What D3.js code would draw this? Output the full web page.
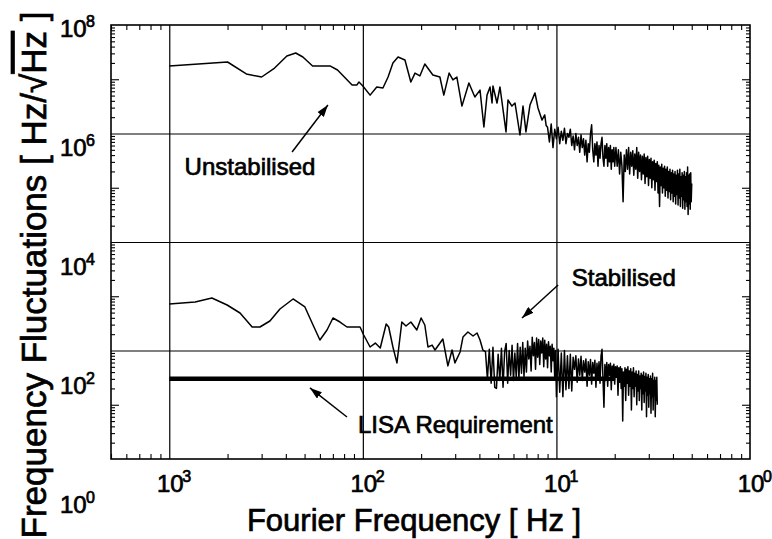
<!DOCTYPE html>
<html><head><meta charset="utf-8">
<script src="https://cdn.jsdelivr.net/npm/d3@7/dist/d3.min.js"></script>
<style>
body{margin:0;background:#fff}
text{font-family:"Liberation Sans",Arial,Helvetica,sans-serif;font-weight:normal;fill:#000;stroke:#000;stroke-width:0.7px}
</style>
</head><body>
<svg id="chart" width="772" height="539"></svg>
<script>
// ---------------- data ----------------
// [frequency Hz, fluctuation Hz/sqrt(Hz)]
const unstabilised = [
[0.001,1.75e7],[0.002,2.08e7],[0.0025,1.25e7],[0.003,1.10e7],[0.0035,1.61e7],[0.00405,2.68e7],
[0.0045,3.05e7],[0.0049,2.57e7],[0.0055,1.75e7],[0.0068,1.75e7],[0.0074,1.48e7],[0.0088,7.8e6],
[0.0093,7.8e6],[0.00955,8.9e6],[0.010,7.5e6],[0.0109,5.1e6],[0.0118,7.2e6],[0.0127,6.9e6],
[0.0135,1.10e7],[0.0143,2.0e7],[0.0152,2.57e7],[0.0165,2.26e7],[0.0177,8.9e6],[0.0186,1.30e7],
[0.0197,1.15e7],[0.0209,1.91e7],[0.0230,1.20e7],[0.0250,1.10e7],[0.0262,5.1e6],[0.0279,1.30e7],
[0.0292,9.7e6],[0.0306,1.10e7],[0.0325,3.2e6],[0.0353,8.5e6],[0.0379,4.7e6],[0.0403,6.3e6],
[0.0422,1.32e6],[0.0438,5.1e6],[0.0454,7.2e6],[0.0465,3.65e6],[0.0470,7.5e6],[0.0493,3.65e6],
[0.0511,7.2e6],[0.0549,1.07e6],[0.0562,4.15e6],[0.0589,3.2e6],[0.0611,3.65e6],[0.0648,9.4e5],
[0.0672,3.2e6],[0.0696,1.07e6],[0.0730,3.35e6],[0.0775,5.6e6],[0.0803,2.95e6],[0.0842,1.77e6],
[0.0870,2.2e6],[0.0885,1.4e6],
[0.090,1.3e6],[0.092,7e5],[0.094,1.5e6],[0.096,5.5e5],[0.098,1.2e6],[0.100,8e5],[0.102,1.3e6],
[0.104,6.5e5],[0.106,1.1e6],[0.108,7.5e5],[0.110,1.25e6],[0.112,6.5e5],[0.114,1.0e6],[0.116,8.5e5],
[0.118,1.2e6],[0.120,6e5],[0.122,9e5],[0.124,5e5],[0.126,1.0e6],[0.128,6e5],[0.130,8.5e5],
[0.132,4.5e5],[0.134,9.5e5],[0.136,5.5e5],[0.138,8e5],[0.140,4e5],[0.142,7.5e5],[0.144,3e5],
[0.146,6.5e5],[0.148,4.5e5],[0.150,1.0e6],[0.152,1.45e6],[0.154,5e5],[0.156,3e5],[0.158,6.5e5],
[0.160,4e5],[0.162,7e5],[0.164,2.5e5],[0.166,6e5],[0.168,3.5e5],[0.170,6.5e5],[0.172,8.5e5],
[0.174,3.5e5],[0.176,2.5e5],[0.178,6e5],[0.180,3.5e5],[0.182,6.5e5],[0.184,2.5e5],[0.186,5.5e5],
[0.188,3e5],[0.190,6e5],[0.192,2.2e5],[0.194,5e5],[0.196,3e5],[0.198,5.5e5],[0.200,2.5e5],
[0.203,5.5e5],[0.206,2.5e5],[0.209,5e5],[0.212,1.8e5],[0.215,4.5e5],[0.218,2.5e5],[0.221,5.5e4],
[0.224,4e5],[0.227,2e5],[0.230,5e5],[0.233,2.2e5],[0.236,5.5e5],[0.239,1.8e5],[0.242,4.5e5],
[0.245,2.5e5],[0.248,4.8e5],[0.251,1.7e5],[0.254,4.2e5],[0.257,2.2e5],[0.260,5.5e5],[0.263,1.5e5],
[0.266,4.5e5],[0.269,2e5],[0.272,4e5],[0.275,1.4e5],[0.278,3.8e5],[0.281,1.8e5],[0.284,4.2e5],
[0.287,1.2e5],[0.290,3.6e5],[0.293,1.6e5],[0.296,3.8e5],[0.299,1.1e5],[0.302,3.3e5],[0.305,1.5e5],
[0.308,3.5e5],[0.311,1.0e5],[0.314,3.0e5],[0.317,1.4e5],[0.320,3.2e5],[0.323,9e4],[0.326,2.8e5],
[0.329,1.3e5],[0.332,3.0e5],[0.335,8e4],[0.338,2.6e5],[0.341,4.5e4],[0.344,2.4e5],[0.347,1.1e5],
[0.350,2.7e5],[0.353,8e4],[0.356,2.3e5],[0.359,1.0e5],[0.362,2.5e5],[0.365,7e4],[0.368,2.2e5],
[0.371,9e4],[0.374,2.4e5],[0.377,6.5e4],[0.380,2.0e5],[0.383,8.5e4],[0.386,2.2e5],[0.389,6e4],
[0.392,1.9e5],[0.395,8e4],[0.398,2.1e5],[0.401,5.5e4],[0.404,1.8e5],[0.407,7e4],[0.410,2.0e5],
[0.413,5e4],[0.416,1.7e5],[0.419,7.5e4],[0.422,2.1e5],[0.425,4.8e4],[0.428,1.8e5],[0.431,6.5e4],
[0.434,2.2e5],[0.437,4.5e4],[0.440,1.6e5],[0.443,7e4],[0.446,1.9e5],[0.449,4.2e4],[0.452,1.7e5],
[0.455,6e4],[0.458,2.0e5],[0.461,4e4],[0.464,1.6e5],[0.467,5.5e4],[0.470,1.9e5],[0.473,4.5e4],
[0.476,2.4e5],[0.479,3.2e4],[0.482,1.7e5],[0.485,5e4],[0.488,1.8e5],[0.491,4e4],[0.494,1.9e5],
[0.497,5.5e4],[0.500,1.2e5]
];
const stabilised = [
[0.001,719],[0.00136,784],[0.00166,929],[0.00199,690],[0.00232,491],[0.00268,271],[0.00294,271],
[0.00331,350],[0.00373,582],[0.00436,890],[0.00502,634],[0.00553,295],[0.0060,156],[0.00653,239],
[0.00701,397],[0.00762,335],[0.00828,271],[0.00967,271],[0.0101,193],[0.0109,116],[0.0116,137],
[0.0123,111],[0.0132,308],[0.0136,271],[0.0143,116],[0.0150,59],[0.0159,335],[0.0167,283],
[0.0177,335],[0.0190,239],[0.0200,397],[0.0209,295],[0.0217,116],[0.0228,126],[0.0236,102],
[0.0259,163],[0.0275,52],[0.0289,102],[0.0299,59],[0.0318,94],[0.0329,177],[0.0349,219],
[0.0371,185],[0.0389,210],[0.0403,156],[0.0417,102],
[0.043,95],[0.044,30],[0.045,105],[0.046,25],[0.047,115],[0.048,21],[0.049,20],[0.050,85],
[0.051,28],[0.052,110],[0.053,21],[0.054,95],[0.055,135],[0.056,25],[0.057,100],[0.058,35],
[0.059,125],[0.060,28],[0.061,90],[0.062,32],[0.063,135],[0.064,30],[0.065,115],[0.066,38],
[0.067,140],[0.068,33],[0.069,110],[0.070,40],[0.071,150],[0.072,70],[0.073,120],[0.074,42],
[0.075,175],[0.076,80],[0.077,140],[0.078,45],[0.079,170],[0.080,75],[0.081,160],[0.082,55],
[0.083,150],[0.084,90],[0.085,170],[0.086,50],[0.087,155],[0.088,70],[0.089,130],[0.090,48],
[0.091,145],[0.092,80],[0.093,120],[0.094,40],[0.095,130],[0.096,65],[0.097,110],[0.098,30],
[0.099,100],[0.100,14],
[0.102,105],[0.104,17],[0.106,90],[0.108,14],[0.110,100],[0.112,19],[0.114,80],[0.116,20],
[0.118,85],[0.120,18],[0.122,75],[0.124,45],[0.126,80],[0.128,26],[0.130,70],[0.132,35],
[0.134,78],[0.136,28],[0.138,65],[0.140,40],[0.142,70],[0.144,22],[0.146,62],[0.148,35],
[0.150,68],[0.152,24],[0.154,60],[0.156,38],[0.158,66],[0.160,21],[0.162,58],[0.164,30],
[0.166,62],[0.168,25],[0.170,80],[0.172,105],[0.174,30],[0.176,9],[0.178,55],[0.180,28],
[0.182,60],[0.184,22],[0.186,55],[0.188,35],[0.190,58],[0.192,19],[0.194,52],[0.196,30],
[0.198,56],[0.200,24],[0.202,50],[0.204,32],[0.206,52],[0.208,15],[0.210,48],[0.212,26],
[0.214,50],[0.216,20],[0.218,46],[0.220,5],[0.222,40],[0.224,22],[0.226,48],[0.228,12],
[0.230,45],[0.232,25],[0.234,50],[0.236,15],[0.238,42],[0.240,22],[0.242,46],[0.244,8],
[0.246,40],[0.248,20],[0.250,48],[0.252,14],[0.254,38],[0.256,22],[0.258,42],[0.260,10],
[0.262,36],[0.264,18],[0.266,42],[0.268,12],[0.270,34],[0.272,20],[0.274,38],[0.276,8],
[0.278,35],[0.280,16],[0.282,40],[0.284,11],[0.286,33],[0.288,18],[0.290,38],[0.292,6],
[0.294,32],[0.296,15],[0.298,36],[0.300,9],[0.302,30],[0.304,16],[0.306,34],[0.308,7],
[0.310,30],[0.312,14],[0.314,38],[0.316,8],[0.318,28],[0.320,15],[0.322,32],[0.324,6],
[0.326,28],[0.328,12],[0.330,32],[0.332,10]
];
const lisaRequirement = [[0.001,30],[0.2,30]];

const xTickValues = [1e-3,1e-2,1e-1,1];
const xTickExponents = ["3","2","1","0"];
const yTickValues = [1,1e2,1e4,1e6,1e8];
const yTickExponents = ["0","2","4","6","8"];
const xGrid = [1e-3,1e-2,1e-1];
const yGrid = [1e2,1e4,1e6];

const annotations = [
  {text:"Unstabilised", at:[1.2e-3,1.72e5], from:[4.31e-3,4.56e5], to:[6.6e-3,3.35e6]},
  {text:"Stabilised", at:[0.120,1.55e3], from:[0.102,1.61e3], to:[0.0664,397]},
  {text:"LISA Requirement", at:[9.44e-3,3.0], from:[8.28e-3,5.94], to:[5.33e-3,20.4]}
];

// ---------------- layout ----------------
const svg = d3.select("#chart");
const L = 111, R = 750, T = 25, B = 459;
const x = d3.scaleLog().domain([5e-4,1]).range([L,R]);
const y = d3.scaleLog().domain([1,1e8]).range([B,T]);
const yLabel = d3.scaleLog().domain([1,1e8]).range([513,37]);

const minorX = [];
[1e-4,1e-3,1e-2,1e-1].forEach(d=>{for(let k=2;k<=9;k++){const v=d*k; if(v>=5e-4&&v<1) minorX.push(v);}});
const minorY = [];
for(let e=0;e<8;e++){for(let k=2;k<=9;k++) minorY.push(k*Math.pow(10,e));}
const majorY = [10,1e3,1e5,1e7];

function clean(g){g.select(".domain").remove(); g.selectAll("line").attr("stroke","#000").attr("stroke-width",1.1);}

svg.append("g").attr("transform",`translate(0,${B})`)
  .call(d3.axisBottom(x).tickValues(minorX).tickSize(-5).tickFormat("")).call(clean);
svg.append("g").attr("transform",`translate(0,${T})`)
  .call(d3.axisTop(x).tickValues(minorX).tickSize(-5).tickFormat("")).call(clean);
svg.append("g").attr("transform",`translate(${L},0)`)
  .call(d3.axisLeft(y).tickValues(minorY).tickSize(-4).tickFormat("")).call(clean);
svg.append("g").attr("transform",`translate(${L},0)`)
  .call(d3.axisLeft(y).tickValues(majorY).tickSize(-8).tickFormat("")).call(clean);
svg.append("g").attr("transform",`translate(${R},0)`)
  .call(d3.axisRight(y).tickValues(minorY).tickSize(-4).tickFormat("")).call(clean);
svg.append("g").attr("transform",`translate(${R},0)`)
  .call(d3.axisRight(y).tickValues(majorY).tickSize(-8).tickFormat("")).call(clean);

svg.append("g").attr("transform",`translate(0,${B})`)
  .call(d3.axisBottom(x).tickValues(xGrid).tickSize(-(B-T)).tickFormat(""))
  .call(g=>{g.select(".domain").remove(); g.selectAll("line").attr("stroke","#000").attr("stroke-width",1.2);});
svg.append("g").attr("transform",`translate(${L},0)`)
  .call(d3.axisLeft(y).tickValues(yGrid).tickSize(-(R-L)).tickFormat(""))
  .call(g=>{g.select(".domain").remove(); g.selectAll("line").attr("stroke","#000").attr("stroke-width",1.2);});

svg.append("rect").attr("x",L).attr("y",T).attr("width",R-L).attr("height",B-T)
  .attr("fill","none").attr("stroke","#000").attr("stroke-width",1.6);

const line = d3.line().x(d=>x(d[0])).y(d=>y(d[1]));
svg.append("path").datum(unstabilised).attr("d",line).attr("fill","none")
  .attr("stroke","#000").attr("stroke-width",1.5).attr("stroke-linejoin","round");
svg.append("path").datum(stabilised).attr("d",line).attr("fill","none")
  .attr("stroke","#000").attr("stroke-width",1.5).attr("stroke-linejoin","round");
svg.append("path").datum(lisaRequirement).attr("d",line).attr("fill","none")
  .attr("stroke","#000").attr("stroke-width",4.5);

xTickValues.forEach((v,i)=>{
  svg.append("text").attr("x",x(v)+1).attr("y",492).attr("text-anchor","middle")
    .style("font-size","24px").text("10");
  svg.append("text").attr("x",x(v)+13).attr("y",482).attr("text-anchor","start")
    .style("font-size","16px").text(xTickExponents[i]);
});
yTickValues.forEach((v,i)=>{
  svg.append("text").attr("x",60).attr("y",yLabel(v)).attr("text-anchor","start")
    .style("font-size","24px").text("10");
  svg.append("text").attr("x",86).attr("y",yLabel(v)-10).attr("text-anchor","start")
    .style("font-size","16px").text(yTickExponents[i]);
});

svg.append("text").attr("x",414).attr("y",531).attr("text-anchor","middle")
  .style("font-size","31px").text("Fourier Frequency [ Hz ]");
const yt = svg.append("text").attr("transform","translate(46,275) rotate(-90)")
  .attr("text-anchor","middle").style("font-size","35px");
yt.append("tspan").text("Frequency Fluctuations [ Hz/\u221A");
yt.append("tspan").style("text-decoration","overline").text("Hz");
yt.append("tspan").text(" ]");

svg.append("defs").append("marker").attr("id","ah").attr("viewBox","0 0 12 8")
  .attr("refX",12).attr("refY",4).attr("markerWidth",12).attr("markerHeight",8)
  .attr("markerUnits","userSpaceOnUse").attr("orient","auto")
  .append("path").attr("d","M0,0 L12,4 L0,8 Z").attr("fill","#000");
annotations.forEach(a=>{
  svg.append("line").attr("x1",x(a.from[0])).attr("y1",y(a.from[1]))
    .attr("x2",x(a.to[0])).attr("y2",y(a.to[1]))
    .attr("stroke","#000").attr("stroke-width",1.5).attr("marker-end","url(#ah)");
  svg.append("text").attr("x",x(a.at[0])).attr("y",y(a.at[1]))
    .style("font-size","24px").text(a.text);
});
</script>
</body></html>
